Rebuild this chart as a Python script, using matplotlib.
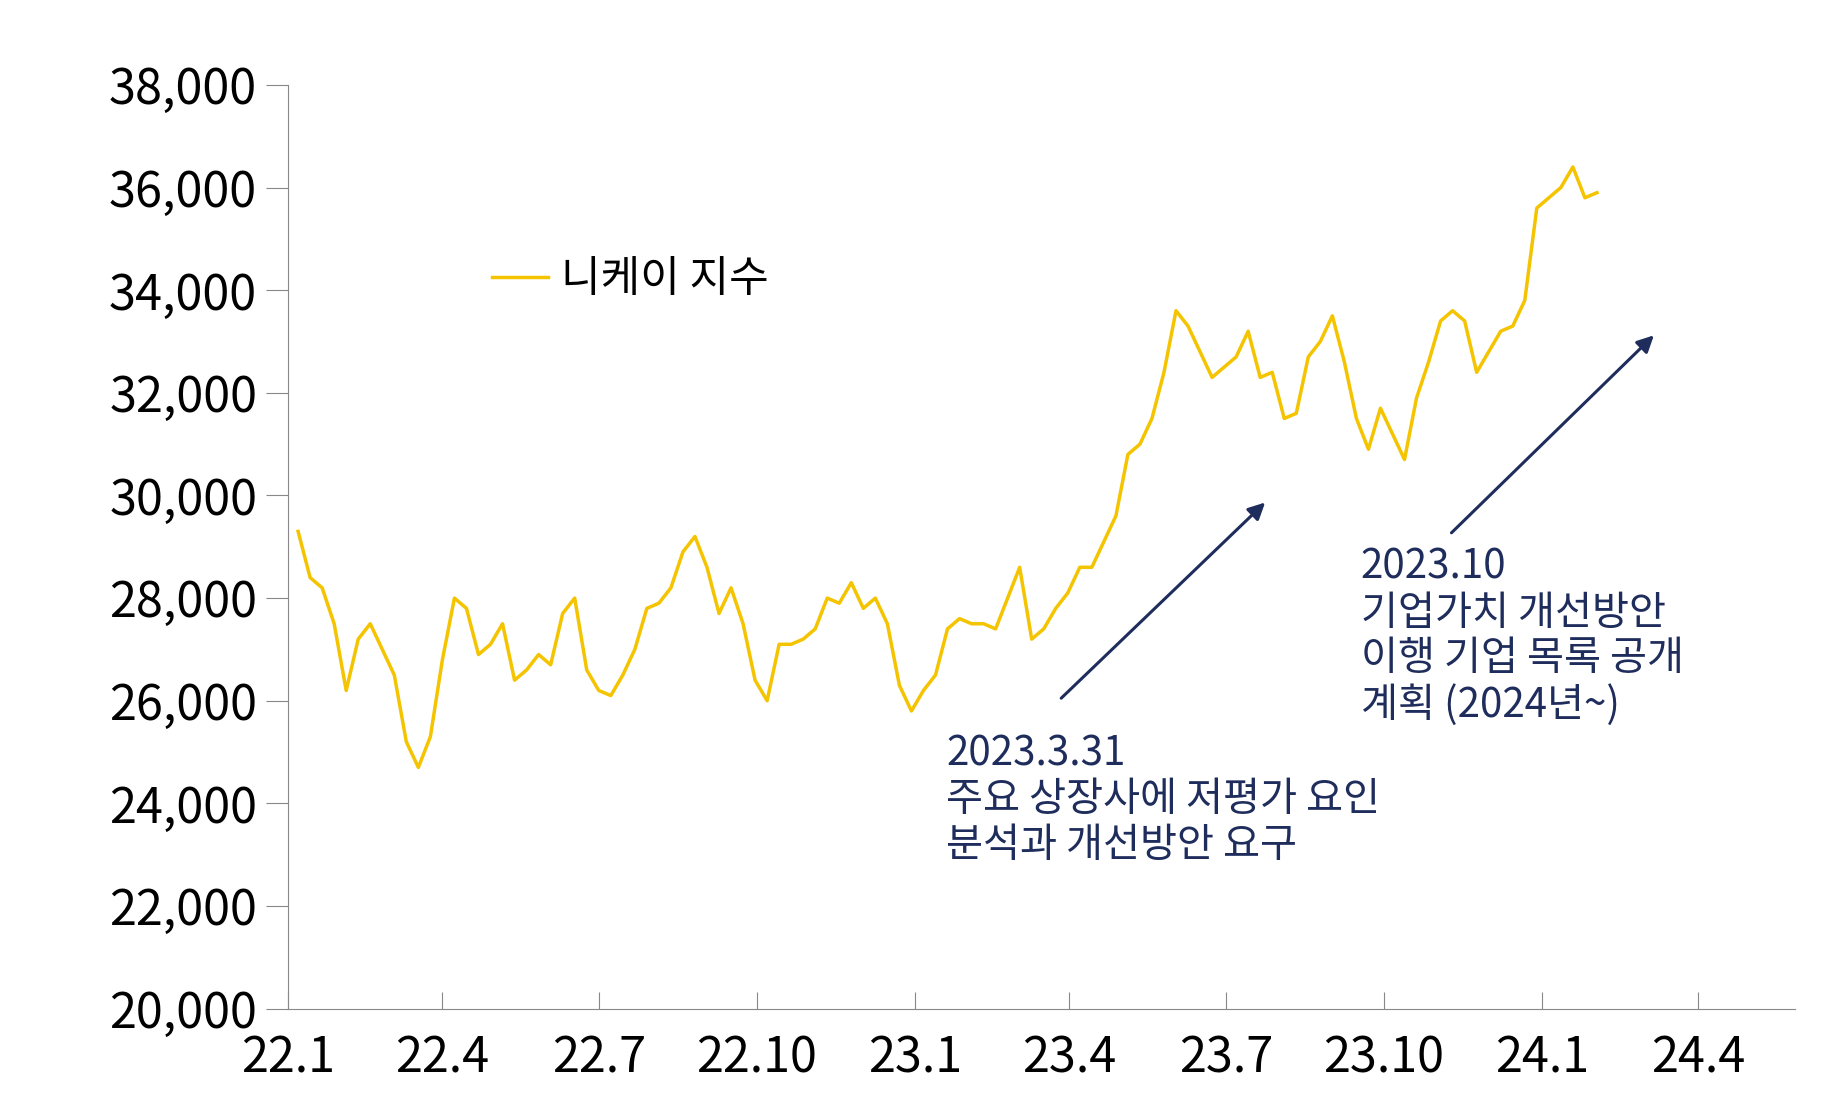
import pandas as pd
import matplotlib.pyplot as plt

plt.rcParams["font.family"] = ["Noto Sans CJK KR", "Noto Sans CJK JP",
                               "Noto Sans CJK SC", "DejaVu Sans"]

# weekly closes (approx.)
nikkei = [
    29300, 28400, 28200, 27500, 26200, 27200, 27500, 27000, 26500,
    25200, 24700, 25300, 26800, 28000, 27800, 26900, 27100, 27500,
    26400, 26600, 26900, 26700, 27700, 28000, 26600, 26200,
    26100, 26500, 27000, 27800, 27900, 28200, 28900, 29200, 28600,
    27700, 28200, 27500, 26400, 26000, 27100, 27100, 27200,
    27400, 28000, 27900, 28300, 27800, 28000, 27500, 26300,
    25800, 26200, 26500, 27400, 27600, 27500, 27500, 27400,
    28000, 28600, 27200, 27400, 27800, 28100, 28600, 28600,
    29100, 29600, 30800, 31000, 31500, 32400, 33600, 33300, 32800,
    32300, 32500, 32700, 33200, 32300, 32400, 31500, 31600,
    32700, 33000, 33500, 32600, 31500, 30900, 31700, 31200, 30700,
    31900, 32600, 33400, 33600, 33400, 32400, 32800, 33200,
    33300, 33800, 35600, 35800, 36000, 36400, 35800, 35900,
]
dates = pd.date_range("2022-01-07", periods=len(nikkei), freq="W-FRI")

tick_dates = pd.date_range("2022-01-01", "2024-04-01", freq="QS")
tick_labels = ["22.1", "22.4", "22.7", "22.10", "23.1", "23.4", "23.7",
               "23.10", "24.1", "24.4"]
y_ticks = list(range(20000, 38001, 2000))

note1 = "2023.3.31\n주요 상장사에 저평가 요인\n분석과 개선방안 요구"
note2 = "2023.10\n기업가치 개선방안\n이행 기업 목록 공개\n계획 (2024년~)"

navy = "#1f2d5c"
fig = plt.figure(figsize=(18.33, 11.17), dpi=100)
ax = fig.add_axes([0.157, 0.097, 0.822, 0.827])
ax.plot(dates, nikkei, color="#f5c400", lw=2.5, label="니케이 지수")

ax.set_xlim(pd.Timestamp("2022-01-01"), pd.Timestamp("2024-05-27"))
ax.set_ylim(20000, 38000)
ax.set_xticks(tick_dates)
ax.set_xticklabels(tick_labels)
ax.set_yticks(y_ticks)
ax.set_yticklabels([f"{v:,}" for v in y_ticks])
ax.tick_params(axis="y", direction="out", length=16, color="#888888",
               labelsize=35, pad=6)
ax.tick_params(axis="x", direction="in", length=12, color="#888888",
               labelsize=35, pad=18)
for s in ["top", "right"]:
    ax.spines[s].set_visible(False)
for s in ["left", "bottom"]:
    ax.spines[s].set_color("#888888")

ax.legend(loc="center left", bbox_to_anchor=(0.11, 0.789), frameon=False,
          fontsize=31, handlelength=1.3, handletextpad=0.3)

arrow = dict(arrowstyle="-|>", color=navy, lw=2.2, mutation_scale=25)
ax.annotate("", xy=(0.650, 0.550), xytext=(0.512, 0.334),
            xycoords="axes fraction", arrowprops=arrow)
ax.annotate("", xy=(0.908, 0.731), xytext=(0.771, 0.513),
            xycoords="axes fraction", arrowprops=arrow)
ax.text(0.437, 0.298, note1, transform=ax.transAxes, va="top", ha="left",
        fontsize=29, color=navy, linespacing=1.15)
ax.text(0.712, 0.500, note2, transform=ax.transAxes, va="top", ha="left",
        fontsize=29, color=navy, linespacing=1.15)

fig.savefig("out.png")
